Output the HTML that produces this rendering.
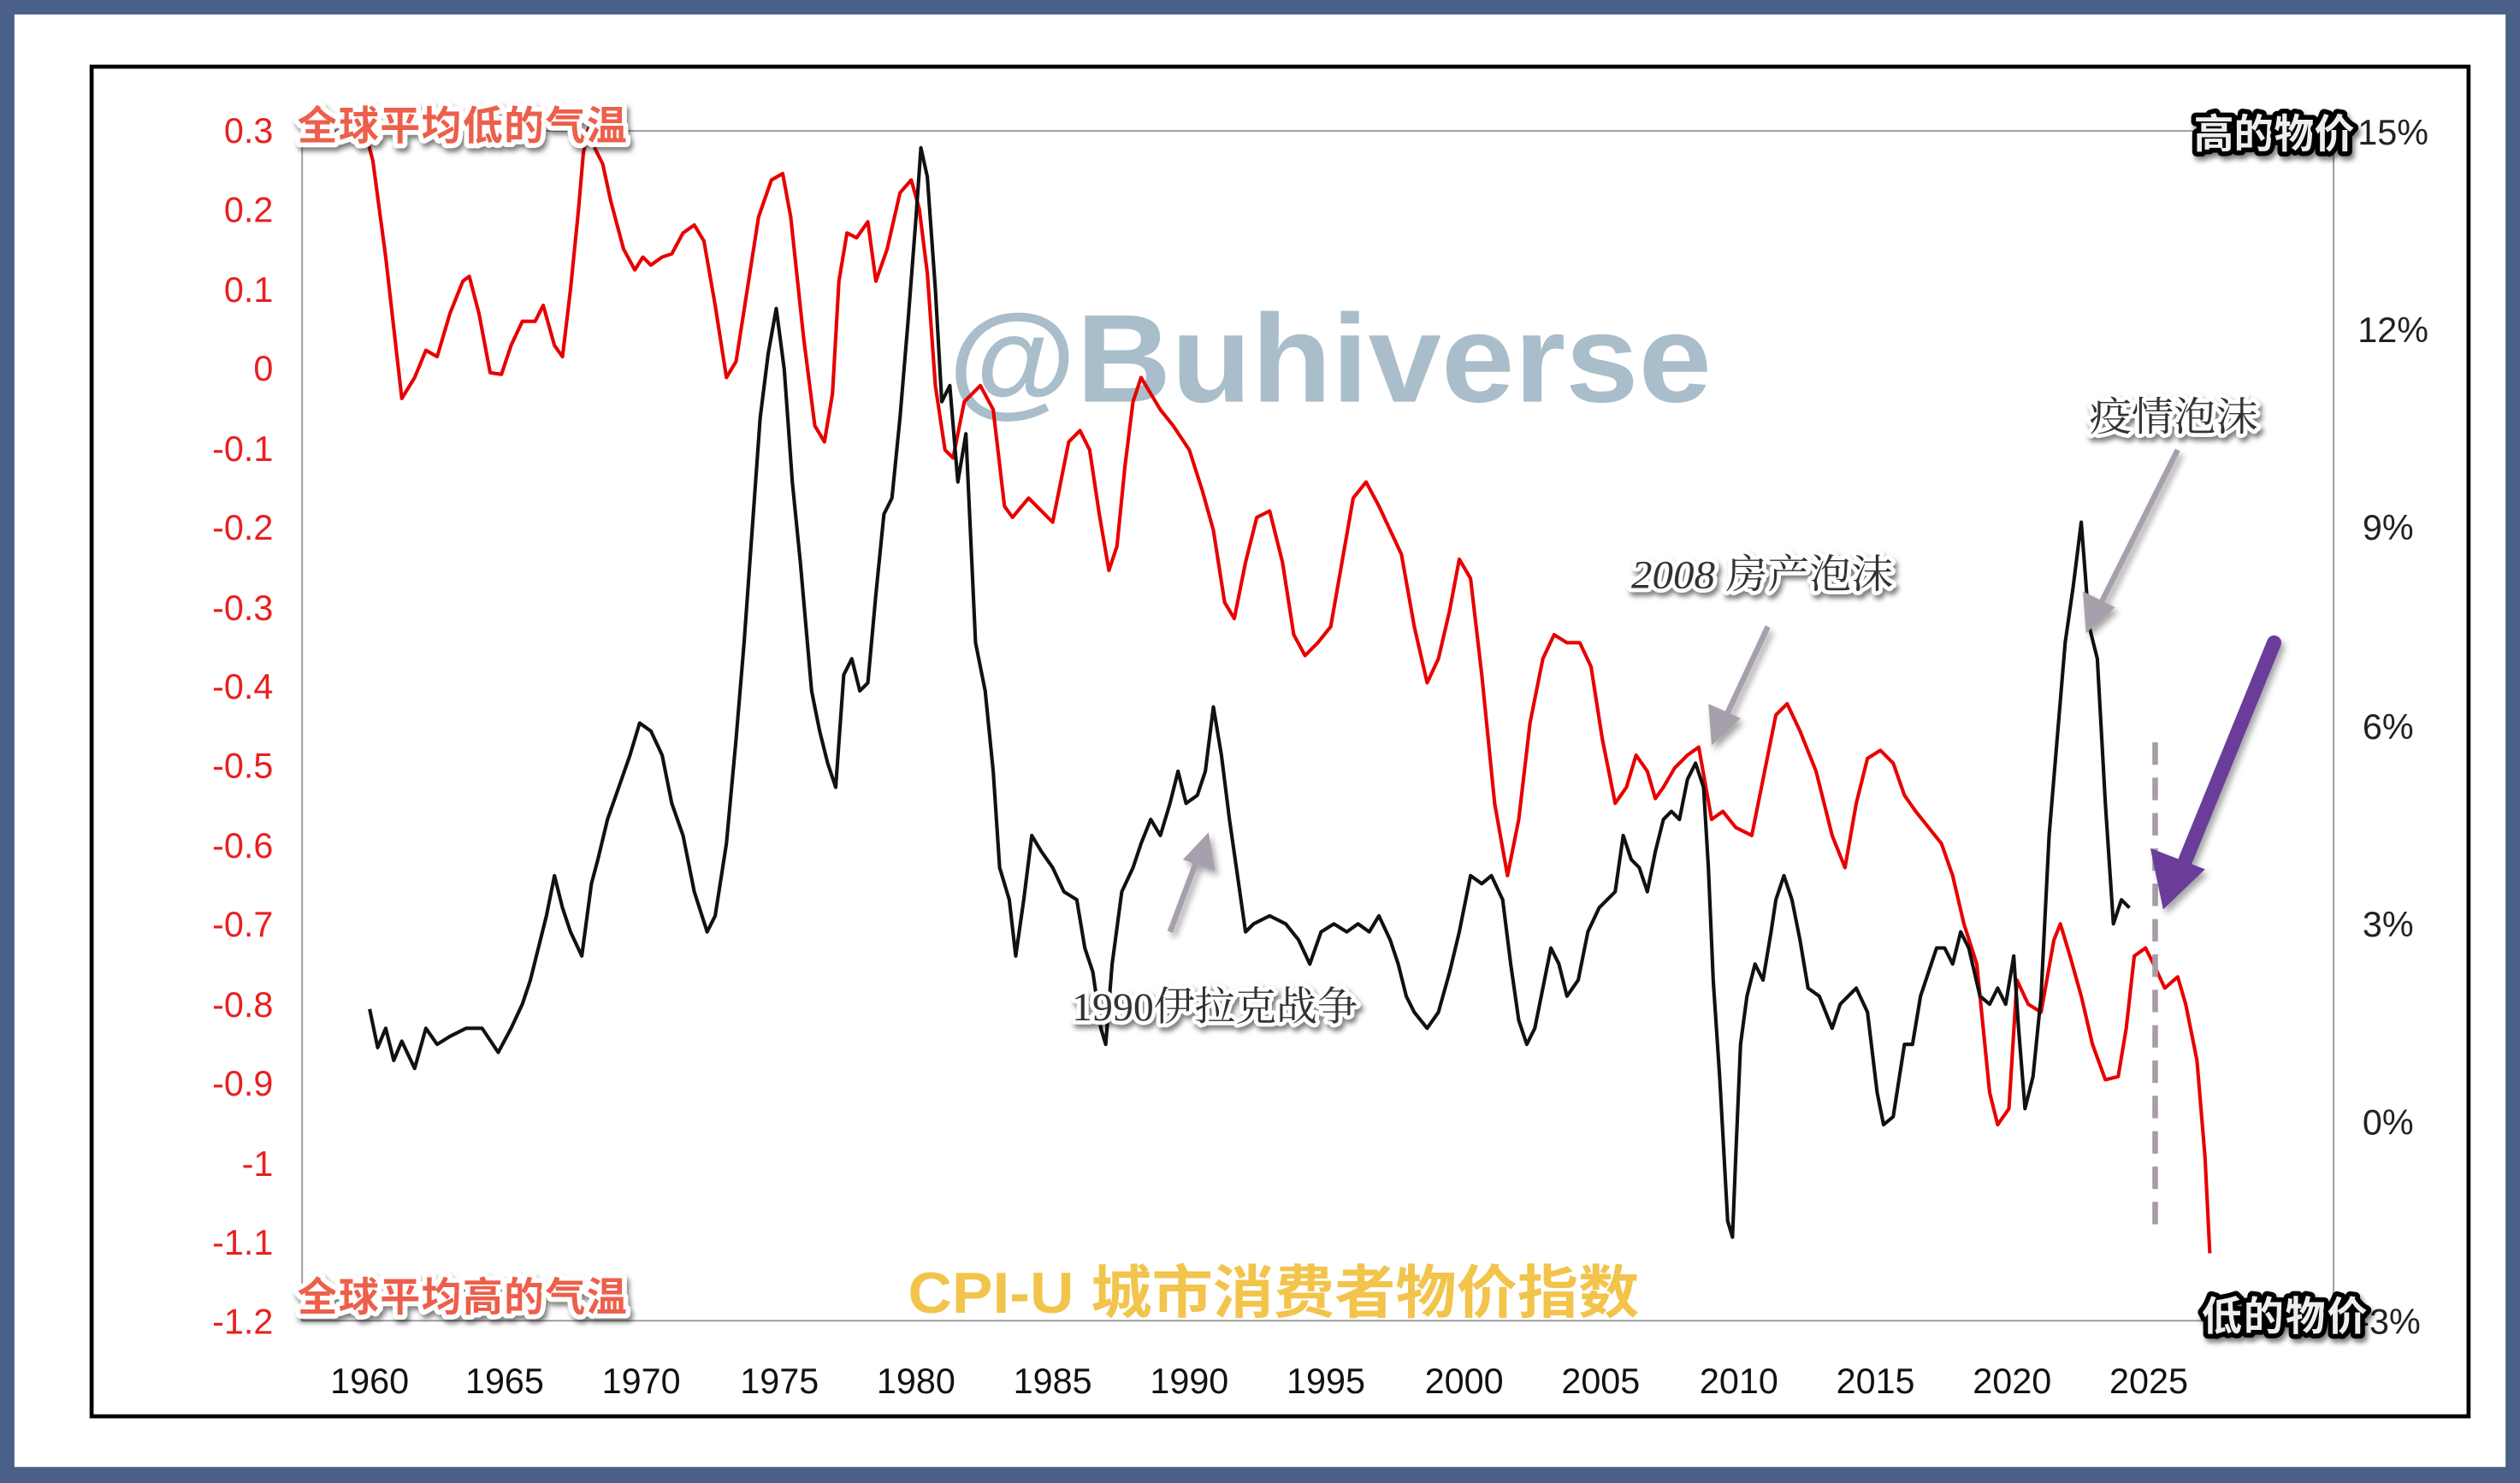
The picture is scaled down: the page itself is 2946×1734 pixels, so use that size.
<!DOCTYPE html>
<html><head><meta charset="utf-8"><style>
html,body{margin:0;padding:0;background:#4a6088;}
svg{display:block}
</style></head><body>
<svg width="2946" height="1734" viewBox="0 0 1568 923" preserveAspectRatio="none" xmlns="http://www.w3.org/2000/svg">
<defs>
<filter id="sh" x="-10%" y="-30%" width="120%" height="170%"><feDropShadow dx="1.5" dy="2.5" stdDeviation="1.5" flood-color="#000" flood-opacity="0.5"/></filter>
<filter id="sh2" x="-20%" y="-20%" width="140%" height="140%"><feDropShadow dx="2" dy="3" stdDeviation="2" flood-color="#000" flood-opacity="0.35"/></filter>
</defs>
<rect x="9" y="9" width="1550" height="904" fill="#fff"/>
<rect x="57" y="41.5" width="1479" height="840" fill="#fff" stroke="#000" stroke-width="2.5"/>
<rect x="188" y="81.5" width="1264" height="740.5" fill="none" stroke="#999" stroke-width="1"/>
<g font-family="Liberation Sans, sans-serif" font-size="22" fill="#e82020" text-anchor="end">
<text x="170" y="89">0.3</text><text x="170" y="138">0.2</text><text x="170" y="188">0.1</text><text x="170" y="237">0</text>
<text x="170" y="287">-0.1</text><text x="170" y="336">-0.2</text><text x="170" y="386">-0.3</text><text x="170" y="435">-0.4</text>
<text x="170" y="484">-0.5</text><text x="170" y="534">-0.6</text><text x="170" y="583">-0.7</text><text x="170" y="633">-0.8</text>
<text x="170" y="682">-0.9</text><text x="170" y="732">-1</text><text x="170" y="781">-1.1</text><text x="170" y="830">-1.2</text>
</g>
<g font-family="Liberation Sans, sans-serif" font-size="22" fill="#222" text-anchor="start">
<text x="1467" y="90">15%</text><text x="1467" y="213">12%</text><text x="1470" y="336">9%</text><text x="1470" y="460">6%</text>
<text x="1470" y="583">3%</text><text x="1470" y="706">0%</text><text x="1467" y="830">-3%</text>
</g>
<g font-family="Liberation Sans, sans-serif" font-size="22" fill="#111" text-anchor="middle">
<text x="230" y="867">1960</text><text x="314" y="867">1965</text><text x="399" y="867">1970</text><text x="485" y="867">1975</text>
<text x="570" y="867">1980</text><text x="655" y="867">1985</text><text x="740" y="867">1990</text><text x="825" y="867">1995</text>
<text x="911" y="867">2000</text><text x="996" y="867">2005</text><text x="1082" y="867">2010</text><text x="1167" y="867">2015</text>
<text x="1252" y="867">2020</text><text x="1337" y="867">2025</text>
</g>
<text x="590" y="250" textLength="475" lengthAdjust="spacingAndGlyphs" font-family="Liberation Sans, sans-serif" font-weight="bold" font-size="78" fill="#a9bdcb">@Buhiverse</text>
<polyline fill="none" stroke="#e80000" stroke-width="2.2" stroke-linejoin="round" points="228,85 232,100 240,160 250,248 258,235 265,218 272,222 280,195 288,175 292,172 298,195 305,232 312,233 318,215 325,200 333,200 338,190 345,215 350,222 355,180 360,130 363,95 366,80 370,92 375,102 380,125 388,155 395,168 400,160 405,165 412,160 418,158 425,145 432,140 438,150 445,190 452,235 458,225 465,180 472,135 480,112 487,108 492,135 500,210 507,265 513,275 518,245 522,175 527,145 533,148 540,138 545,175 552,155 560,120 567,112 572,130 577,170 582,240 588,280 593,285 600,250 610,240 618,255 625,315 630,322 640,310 648,318 655,325 660,300 665,275 672,268 678,280 684,320 690,355 695,340 700,290 705,250 710,235 716,245 722,255 730,265 740,280 748,305 755,330 762,375 768,385 775,350 782,322 790,318 798,350 805,395 812,408 820,400 828,390 835,350 842,310 850,300 858,315 865,330 872,345 880,390 888,425 895,410 902,380 908,348 915,360 922,420 930,500 938,545 945,510 952,450 960,410 967,395 975,400 983,400 990,415 997,460 1005,500 1012,490 1018,470 1025,480 1030,497 1035,490 1042,478 1050,470 1057,465 1065,510 1072,505 1080,515 1090,520 1098,480 1105,445 1112,438 1120,455 1130,480 1140,520 1148,540 1155,500 1162,472 1170,467 1178,475 1185,495 1192,505 1200,515 1208,525 1215,545 1222,575 1230,600 1238,680 1243,700 1250,690 1255,610 1262,625 1270,630 1278,585 1282,575 1288,595 1295,620 1302,650 1310,672 1318,670 1323,640 1328,595 1335,590 1340,600 1347,615 1355,608 1360,625 1367,660 1372,720 1375,780"/>
<polyline fill="none" stroke="#111" stroke-width="2.2" stroke-linejoin="round" points="230,628 235,652 240,640 245,660 250,648 258,665 265,640 272,650 280,645 290,640 300,640 310,655 318,640 325,625 330,610 335,590 340,570 345,545 350,565 355,580 362,595 368,550 372,535 378,510 385,490 392,470 398,450 405,455 412,470 418,500 425,520 432,555 440,580 445,570 452,525 458,460 463,400 468,330 473,260 478,220 483,192 488,230 493,300 498,350 505,430 510,455 515,475 520,490 525,420 530,410 535,430 540,425 545,370 550,320 555,310 560,260 565,200 570,135 573,92 577,110 582,180 586,250 591,240 596,300 601,270 607,400 613,430 618,480 622,540 628,560 632,595 637,560 642,520 648,530 655,540 662,555 670,560 675,590 680,605 685,640 688,650 692,600 698,555 705,540 710,525 716,510 722,520 728,500 733,480 738,500 745,495 750,480 755,440 760,470 765,510 770,545 775,580 780,575 790,570 800,575 808,585 815,600 822,580 830,575 838,580 845,575 852,580 858,570 865,585 870,600 875,620 880,630 888,640 895,630 902,605 908,580 915,545 922,550 928,545 935,560 940,600 945,635 950,650 955,640 960,615 965,590 970,600 975,620 982,610 988,580 995,565 1000,560 1005,555 1010,520 1015,535 1020,540 1025,555 1030,530 1035,510 1040,505 1045,510 1050,485 1055,475 1060,490 1063,540 1066,610 1070,670 1075,760 1078,770 1080,720 1083,650 1087,620 1092,600 1097,610 1102,580 1105,560 1110,545 1115,560 1120,585 1125,615 1132,620 1140,640 1145,625 1150,620 1155,615 1162,630 1168,680 1172,700 1178,695 1185,650 1190,650 1195,620 1200,605 1205,590 1210,590 1215,600 1220,580 1225,590 1232,620 1238,625 1243,615 1248,625 1253,595 1256,640 1260,690 1265,670 1270,620 1275,520 1280,460 1285,400 1290,365 1295,325 1300,390 1305,410 1310,500 1315,575 1320,560 1325,565"/>
<line x1="1341" y1="462" x2="1341" y2="765" stroke="#a89ca8" stroke-width="3.5" stroke-dasharray="14,8"/>
<g stroke="#a79fab" stroke-width="3.5" fill="#a79fab" filter="url(#sh2)">
<line x1="1355" y1="280" x2="1305" y2="380"/><polygon points="1298,394 1296,368 1316,378" stroke="none"/>
<line x1="1100" y1="390" x2="1072" y2="450"/><polygon points="1065,464 1063,438 1083,447" stroke="none"/>
<line x1="728" y1="580" x2="746" y2="532"/><polygon points="752,518 756,542 736,535" stroke="none"/>
</g>
<g filter="url(#sh2)"><line x1="1415" y1="400" x2="1360" y2="535" stroke="#6a3d9a" stroke-width="9" stroke-linecap="round"/>
<polygon points="1346,566 1338,528 1372,541" fill="#6a3d9a"/></g>
<g font-family="Liberation Sans, 'Noto Sans CJK SC', sans-serif" font-weight="bold" font-size="25" filter="url(#sh)" style="paint-order:stroke" stroke-linejoin="round" lengthAdjust="spacingAndGlyphs">
<text x="185" y="87" textLength="205" fill="#ec5f4c" stroke="#fff" stroke-width="6">全球平均低的气温</text>
<text x="185" y="816" textLength="205" fill="#ec5f4c" stroke="#fff" stroke-width="6">全球平均高的气温</text>
<text x="1365" y="92" textLength="100" fill="#eee" stroke="#000" stroke-width="6">高的物价</text>
<text x="1370" y="828" textLength="103" fill="#eee" stroke="#000" stroke-width="6">低的物价</text>
</g>
<g font-family="Liberation Serif, 'Noto Serif CJK SC', serif" font-size="25" fill="#333" stroke="#fff" stroke-width="5" style="paint-order:stroke" stroke-linejoin="round" filter="url(#sh)">
<text x="1300" y="268" textLength="105" lengthAdjust="spacingAndGlyphs">疫情泡沫</text>
<text x="1015" y="366" textLength="163" lengthAdjust="spacingAndGlyphs"><tspan font-style="italic">2008</tspan> 房产泡沫</text>
<text x="667" y="635" textLength="178" lengthAdjust="spacingAndGlyphs">1990伊拉克战争</text>
</g>
<text x="565" y="817" textLength="455" lengthAdjust="spacingAndGlyphs" font-family="Liberation Sans, 'Noto Sans CJK SC', sans-serif" font-weight="bold" font-size="36" fill="#f2c44c">CPI-U 城市消费者物价指数</text>
</svg>
</body></html>
